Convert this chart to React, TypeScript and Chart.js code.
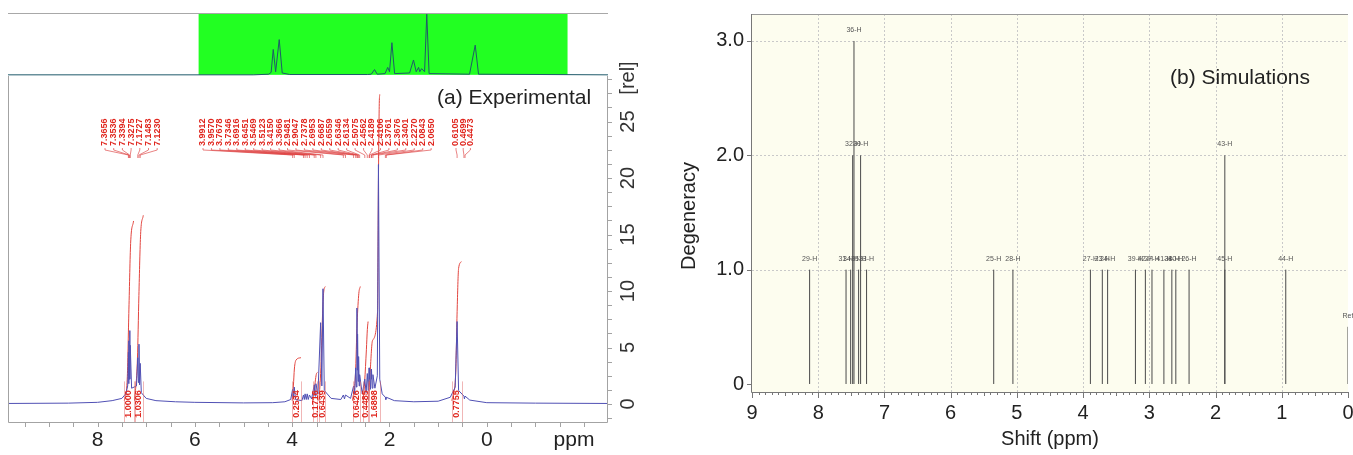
import React, { useEffect, useRef } from 'react';
import { Chart, registerables } from 'chart.js';

Chart.register(...registerables);

const FONT = '"Liberation Sans", Arial, Helvetica, sans-serif';

// ---------------- (a) Experimental ----------------
// spectrum: [ppm, intensity in rel units]
const expSpectrum: [number, number][] = [
  [9.84, 0.05], [8.6, 0.08], [8.0, 0.15], [7.7, 0.3], [7.5, 0.5], [7.42, 0.9], [7.38, 1.6],
  [7.3656, 4.6], [7.36, 1.8], [7.3536, 5.6], [7.346, 2.2], [7.3394, 6.5], [7.333, 2.2], [7.3275, 5.2],
  [7.3, 1.4], [7.2, 1.6], [7.1727, 4.1], [7.16, 1.9], [7.1483, 5.3], [7.136, 1.7], [7.123, 3.6],
  [7.1, 1.0], [7.0, 0.5], [6.8, 0.3], [6.4, 0.2], [6.0, 0.15], [5.0, 0.1], [4.4, 0.12], [4.15, 0.2],
  [4.03, 0.4], [3.9912, 1.3], [3.975, 0.5], [3.957, 1.5], [3.93, 0.4], [3.8, 0.3], [3.7678, 0.8],
  [3.75, 0.4], [3.7346, 0.9], [3.71, 0.4], [3.6916, 0.9], [3.67, 0.4], [3.6451, 0.8], [3.6, 0.45],
  [3.5469, 1.7], [3.53, 0.7], [3.5123, 1.8], [3.47, 0.9], [3.415, 7.2], [3.39, 1.6], [3.3666, 10.2],
  [3.34, 1.2], [3.2, 0.5], [3.0, 0.4], [2.9481, 0.8], [2.925, 0.45], [2.9047, 0.8], [2.8, 0.5],
  [2.7378, 1.6], [2.715, 0.9], [2.6953, 3.2], [2.68, 1.5], [2.6687, 8.5], [2.662, 3.0], [2.6559, 6.2],
  [2.645, 2.0], [2.6346, 4.2], [2.624, 1.6], [2.6134, 2.6], [2.56, 0.9], [2.5075, 2.2], [2.48, 1.0],
  [2.4562, 2.7], [2.435, 1.2], [2.4189, 3.2], [2.4146, 2.2], [2.4106, 3.2], [2.39, 1.3], [2.3761, 3.1],
  [2.372, 2.2], [2.3676, 3.1], [2.355, 1.4], [2.3401, 2.6], [2.3, 1.4], [2.25, 2.5], [2.227, 21.2],
  [2.2, 2.2], [2.15, 0.9], [2.0843, 0.6], [2.075, 0.4], [2.065, 0.6], [1.9, 0.3], [1.5, 0.2],
  [1.0, 0.25], [0.75, 0.6], [0.65, 1.5], [0.6105, 7.3], [0.58, 1.2], [0.4699, 0.7], [0.46, 0.45],
  [0.4473, 0.7], [0.35, 0.35], [0.0, 0.12], [-1.0, 0.08], [-2.47, 0.05],
];

// overview strip (whole spectrum, normalised)
const overviewSpectrum: [number, number][] = [
  [16.2, 0], [8.0, 0], [7.5, 0.01], [7.42, 0.04], [7.35, 0.41], [7.27, 0.05], [7.15, 0.57], [7.05, 0.03],
  [6.8, 0.005], [4.2, 0.005], [4.08, 0.01], [3.97, 0.085], [3.88, 0.01], [3.62, 0.02], [3.53, 0.12],
  [3.47, 0.05], [3.39, 0.52], [3.3, 0.02], [2.8, 0.03], [2.67, 0.24], [2.58, 0.05], [2.5, 0.12],
  [2.46, 0.05], [2.4, 0.1], [2.3, 0.05], [2.227, 0.98], [2.15, 0.02], [0.8, 0.01], [0.61, 0.48],
  [0.5, 0.01], [-3.82, 0],
];

const overviewRange = [16.2, -3.82];
const zoomWindow = [9.84, -2.47];

// picked peaks (ppm), three label groups
const peakGroupA = [7.3656, 7.3536, 7.3394, 7.3275, 7.1727, 7.1483, 7.123];
const peakGroupB = [
  3.9912, 3.957, 3.7678, 3.7346, 3.6916, 3.6451, 3.5469, 3.5123, 3.415, 3.3666, 2.9481, 2.9047,
  2.7378, 2.6953, 2.6687, 2.6559, 2.6346, 2.6134, 2.5075, 2.4562, 2.4189, 2.4106, 2.3761, 2.3676,
  2.3401, 2.227, 2.0843, 2.065,
];
const peakGroupC = [0.6105, 0.4699, 0.4473];

// integrals
const integralValues = ['1.0000', '1.0306', '0.2534', '0.1716', '0.6439', '0.6426', '0.4485', '1.6898', '0.7755'];
const integral1 = [[7.45, 0.3], [7.39, 2.2], [7.355, 8.4], [7.32, 14.2], [7.26, 16.2]];
const integral2 = [[7.24, 0.3], [7.18, 4.0], [7.15, 9.6], [7.115, 15.0], [7.06, 16.7]];
const integral3 = [[4.0, 0.3], [3.975, 1.6], [3.955, 3.1], [3.92, 3.9], [3.82, 4.1]];
const integral4 = [[3.58, 0.3], [3.55, 1.1], [3.52, 2.2], [3.5, 2.7], [3.48, 2.8]];
const integral5 = [[3.45, 0.3], [3.41, 3.2], [3.37, 8.6], [3.35, 10.0], [3.32, 10.4]];
const integral6 = [[2.76, 0.3], [2.7, 2.6], [2.665, 7.2], [2.63, 9.8], [2.6, 10.4]];
const integral7 = [[2.54, 0.3], [2.51, 2.0], [2.475, 4.8], [2.455, 6.6], [2.44, 7.3]];
const integral8 = [[2.43, 0.3], [2.4, 2.6], [2.35, 5.6], [2.245, 8.2], [2.227, 19.8], [2.21, 26.6], [2.2, 27.4]];
const integral9 = [[0.72, 0.3], [0.64, 2.6], [0.61, 8.2], [0.58, 12.0], [0.52, 12.6]];
const integralCurves = [integral1, integral2, integral3, integral4, integral5, integral6, integral7, integral8, integral9];

const expXTicks = [8, 6, 4, 2, 0];
const relTicks = [0, 5, 10, 15, 20, 25];

// ---------------- (b) Simulations ----------------
const simLabels = ['29-H', '31-H', '34-H', '32-H', '36-H', '35-H', '30-H', '33-H', '25-H', '28-H', '27-H', '23-H',
  '24-H', '39-H', '42-H', '37-H', '41-H', '38-H', '40-H', '26-H', '45-H', '43-H', '44-H', 'Ref'];
const simShift = [8.13, 7.58, 7.51, 7.48, 7.46, 7.39, 7.36, 7.27, 5.35, 5.06, 3.89, 3.71,
  3.63, 3.21, 3.06, 2.96, 2.78, 2.66, 2.6, 2.4, 1.86, 1.86, 0.94, 0.0];
const simDegeneracy = [1, 1, 1, 2, 3, 1, 2, 1, 1, 1, 1, 1,
  1, 1, 1, 1, 1, 1, 1, 1, 1, 2, 1, 0.5];
const simXTicks = [9, 8, 7, 6, 5, 4, 3, 2, 1, 0];
const simYTicks = [0, 1, 2, 3];
const simYTickLabels = ['0', '1.0', '2.0', '3.0'];

const rot = (ctx: any, text: string, x: number, y: number, align: string) => {
  ctx.save();
  ctx.translate(x, y);
  ctx.rotate(-Math.PI / 2);
  ctx.textAlign = align;
  ctx.textBaseline = 'middle';
  ctx.fillText(text, 0, 0);
  ctx.restore();
};

const expPlugin = {
  id: 'expDecor',
  afterDatasetsDraw(chart: any) {
    const { ctx, chartArea: ca } = chart;
    const x = chart.scales.x;
    const y = chart.scales.y;
    ctx.save();
    // integral region markers + values
    integralCurves.forEach((curve, i) => {
      const x0 = x.getPixelForValue(curve[0][0]);
      const x1 = x.getPixelForValue(curve[curve.length - 1][0]);
      ctx.strokeStyle = 'rgba(225,110,110,0.5)';
      ctx.lineWidth = 1;
      [x0, x1].forEach((px) => {
        ctx.beginPath();
        ctx.moveTo(Math.round(px) + 0.5, y.getPixelForValue(2));
        ctx.lineTo(Math.round(px) + 0.5, ca.bottom);
        ctx.stroke();
      });
      ctx.font = `bold 9px ${FONT}`;
      ctx.fillStyle = '#e0261e';
      rot(ctx, integralValues[i], (x0 + x1) / 2, y.getPixelForValue(0), 'center');
    });
    // peak labels with leaders
    const groups = [
      { ppm: peakGroupA, start: 105, step: 8.7 },
      { ppm: peakGroupB, start: 203, step: 8.45 },
      { ppm: peakGroupC, start: 456, step: 7.2 },
    ];
    ctx.font = `bold 9px ${FONT}`;
    groups.forEach((g) => {
      g.ppm.forEach((p, k) => {
        const lx = g.start + k * g.step;
        const px = x.getPixelForValue(p);
        ctx.fillStyle = '#e0261e';
        rot(ctx, p.toFixed(4), lx, 146, 'left');
        ctx.strokeStyle = 'rgba(220,60,60,0.8)';
        ctx.lineWidth = 0.8;
        ctx.beginPath();
        ctx.moveTo(lx, 148);
        ctx.lineTo(lx, 150);
        ctx.lineTo(px, 155);
        ctx.lineTo(px, 158);
        ctx.stroke();
      });
    });
    ctx.restore();
  },
  afterDraw(chart: any) {
    const { ctx, chartArea: ca } = chart;
    const x = chart.scales.x;
    const y = chart.scales.y;
    ctx.save();
    ctx.strokeStyle = '#a3a3a3';
    ctx.lineWidth = 1;
    ctx.beginPath();
    ctx.moveTo(ca.left + 0.5, ca.top);
    ctx.lineTo(ca.left + 0.5, ca.bottom + 0.5);
    ctx.lineTo(ca.right + 0.5, ca.bottom + 0.5);
    ctx.lineTo(ca.right + 0.5, ca.top);
    ctx.stroke();
    // bottom ticks every 0.5 ppm
    for (let i = -4; i <= 19; i++) {
      const v = i * 0.5;
      if (v < x.min || v > x.max) continue;
      const px = Math.round(x.getPixelForValue(v)) + 0.5;
      ctx.beginPath();
      ctx.moveTo(px, ca.bottom);
      ctx.lineTo(px, ca.bottom + 5);
      ctx.stroke();
    }
    // right ticks
    for (let j = -1; j <= 23; j++) {
      const v = j * 1.25;
      if (v < y.min || v > y.max) continue;
      const py = Math.round(y.getPixelForValue(v)) + 0.5;
      ctx.beginPath();
      ctx.moveTo(ca.right, py);
      ctx.lineTo(ca.right + 5, py);
      ctx.stroke();
    }
    ctx.fillStyle = '#333';
    ctx.font = `20px ${FONT}`;
    relTicks.forEach((v) => rot(ctx, String(v), 628, y.getPixelForValue(v), 'center'));
    rot(ctx, '[rel]', 628, 78, 'center');
    ctx.textAlign = 'center';
    ctx.textBaseline = 'middle';
    ctx.fillStyle = '#222';
    ctx.font = `21px ${FONT}`;
    ctx.fillText('ppm', 574, 440);
    ctx.textAlign = 'left';
    ctx.fillText('(a) Experimental', 437, 98);
    ctx.restore();
  },
};

const insetPlugin = {
  id: 'insetDecor',
  beforeDatasetsDraw(chart: any) {
    const { ctx, width } = chart;
    const x = chart.scales.x;
    const y = chart.scales.y;
    ctx.save();
    const a = x.getPixelForValue(zoomWindow[0]);
    const b = x.getPixelForValue(zoomWindow[1]);
    ctx.fillStyle = '#22ff22';
    ctx.fillRect(a, 0, b - a, y.getPixelForValue(0));
    ctx.strokeStyle = '#a8a8a8';
    ctx.lineWidth = 1;
    ctx.beginPath();
    ctx.moveTo(0, 0.5);
    ctx.lineTo(width, 0.5);
    ctx.stroke();
    ctx.restore();
  },
};

const simPlugin = {
  id: 'simDecor',
  beforeDraw(chart: any) {
    const { ctx, chartArea: ca } = chart;
    ctx.save();
    ctx.fillStyle = '#fdfdef';
    ctx.fillRect(ca.left, ca.top, ca.right - ca.left, ca.bottom - ca.top);
    ctx.restore();
  },
  beforeDatasetsDraw(chart: any) {
    const { ctx, chartArea: ca } = chart;
    const x = chart.scales.x;
    const y = chart.scales.y;
    ctx.save();
    ctx.strokeStyle = '#c9c9c9';
    ctx.lineWidth = 1;
    ctx.setLineDash([2, 2]);
    for (let v = 1; v <= 8; v++) {
      const px = Math.round(x.getPixelForValue(v)) + 0.5;
      ctx.beginPath();
      ctx.moveTo(px, ca.top);
      ctx.lineTo(px, ca.bottom);
      ctx.stroke();
    }
    [1, 2, 3].forEach((v) => {
      const py = Math.round(y.getPixelForValue(v)) + 0.5;
      ctx.beginPath();
      ctx.moveTo(ca.left, py);
      ctx.lineTo(ca.right, py);
      ctx.stroke();
    });
    ctx.restore();
  },
  afterDatasetsDraw(chart: any) {
    const { ctx, chartArea: ca } = chart;
    const x = chart.scales.x;
    const y = chart.scales.y;
    ctx.save();
    ctx.font = `7px ${FONT}`;
    ctx.fillStyle = '#555';
    ctx.textAlign = 'center';
    ctx.textBaseline = 'middle';
    simLabels.forEach((lab, i) => {
      ctx.fillText(lab, x.getPixelForValue(simShift[i]), y.getPixelForValue(simDegeneracy[i]) - 11);
    });
    // axes
    ctx.strokeStyle = '#9a9a9a';
    ctx.lineWidth = 1;
    ctx.beginPath();
    ctx.moveTo(ca.left, ca.top + 0.5);
    ctx.lineTo(ca.right, ca.top + 0.5);
    ctx.stroke();
    ctx.strokeStyle = '#777';
    ctx.beginPath();
    ctx.moveTo(ca.left - 0.5, ca.top);
    ctx.lineTo(ca.left - 0.5, ca.bottom + 0.5);
    ctx.lineTo(ca.right, ca.bottom + 0.5);
    ctx.stroke();
    for (let i = 0; i <= 90; i++) {
      const px = Math.round(x.getPixelForValue(i / 10)) + 0.5;
      const len = i % 10 === 0 ? 6 : i % 5 === 0 ? 4 : 3;
      ctx.beginPath();
      ctx.moveTo(px, ca.bottom);
      ctx.lineTo(px, ca.bottom + len);
      ctx.stroke();
    }
    simYTicks.forEach((v) => {
      const py = Math.round(y.getPixelForValue(v)) + 0.5;
      ctx.beginPath();
      ctx.moveTo(ca.left - 5, py);
      ctx.lineTo(ca.left, py);
      ctx.stroke();
    });
    ctx.fillStyle = '#222';
    ctx.font = `20px ${FONT}`;
    simXTicks.forEach((v) => {
      ctx.fillText(String(v), x.getPixelForValue(v), ca.bottom + 21);
    });
    ctx.textAlign = 'right';
    simYTicks.forEach((v, i) => {
      ctx.fillText(simYTickLabels[i], ca.left - 8, y.getPixelForValue(v));
    });
    ctx.textAlign = 'center';
    rot(ctx, 'Degeneracy', 13, 216, 'center');
    ctx.textAlign = 'left';
    ctx.font = `21px ${FONT}`;
    ctx.fillText('(b) Simulations', 494, 78);
    ctx.restore();
  },
};

export default function App() {
  const expRef = useRef<HTMLCanvasElement>(null);
  const insetRef = useRef<HTMLCanvasElement>(null);
  const simRef = useRef<HTMLCanvasElement>(null);

  useEffect(() => {
    const charts: Chart[] = [];
    const noPlug = { legend: { display: false }, tooltip: { enabled: false } };

    charts.push(
      new Chart(expRef.current as HTMLCanvasElement, {
        type: 'line',
        data: {
          datasets: [
            {
              data: expSpectrum.map(([px, py]) => ({ x: px, y: py })),
              borderColor: '#5050b4',
              borderWidth: 1,
              pointRadius: 0,
              tension: 0,
            },
            ...integralCurves.map((c) => ({
              data: c.map(([px, py]) => ({ x: px, y: py })),
              borderColor: '#e2453f',
              borderWidth: 1,
              pointRadius: 0,
              cubicInterpolationMode: 'monotone' as const,
            })),
          ],
        },
        options: {
          responsive: false,
          animation: false,
          devicePixelRatio: 1,
          layout: { padding: { left: 8, top: 76, right: 0, bottom: 0 } },
          plugins: noPlug,
          scales: {
            x: {
              type: 'linear',
              reverse: true,
              min: zoomWindow[1],
              max: zoomWindow[0],
              grid: { display: false, drawTicks: false },
              border: { display: false },
              afterBuildTicks: (s: any) => {
                s.ticks = expXTicks.map((v) => ({ value: v }));
              },
              ticks: { font: { family: FONT, size: 21 }, color: '#222', padding: 6, maxRotation: 0, autoSkip: false },
              afterFit: (s: any) => {
                s.height = 33;
              },
            },
            y: {
              type: 'linear',
              position: 'right',
              min: -1.59,
              max: 29.03,
              grid: { display: false, drawTicks: false },
              border: { display: false },
              ticks: { display: false },
              afterFit: (s: any) => {
                s.width = 69;
              },
            },
          },
        } as any,
        plugins: [expPlugin],
      })
    );

    charts.push(
      new Chart(insetRef.current as HTMLCanvasElement, {
        type: 'line',
        data: {
          datasets: [
            {
              data: overviewSpectrum.map(([px, py]) => ({ x: px, y: py })),
              borderColor: '#1f5a6a',
              borderWidth: 1,
              pointRadius: 0,
              tension: 0,
            },
          ],
        },
        options: {
          responsive: false,
          animation: false,
          devicePixelRatio: 1,
          layout: { padding: 0 },
          plugins: noPlug,
          scales: {
            x: { type: 'linear', reverse: true, min: overviewRange[1], max: overviewRange[0], display: false },
            y: { type: 'linear', min: -0.035, max: 1.0, display: false },
          },
        } as any,
        plugins: [insetPlugin],
      })
    );

    const sticks: any[] = [];
    simShift.forEach((s, i) => {
      sticks.push({ x: s, y: 0 }, { x: s, y: simDegeneracy[i] }, { x: s, y: null });
    });

    charts.push(
      new Chart(simRef.current as HTMLCanvasElement, {
        type: 'line',
        data: {
          datasets: [
            {
              data: sticks,
              borderColor: '#4a4a4a',
              borderWidth: 1,
              pointRadius: 0,
              spanGaps: false,
            },
          ],
        },
        options: {
          responsive: false,
          animation: false,
          devicePixelRatio: 1,
          layout: { padding: { top: 14, right: 5, left: 0, bottom: 0 } },
          plugins: noPlug,
          scales: {
            x: {
              type: 'linear',
              reverse: true,
              min: 0,
              max: 9,
              grid: { display: false, drawTicks: false },
              border: { display: false },
              ticks: { display: false },
              title: { display: true, text: 'Shift (ppm)', font: { family: FONT, size: 20 }, color: '#222', padding: { top: 0, bottom: 4 } },
              afterFit: (s: any) => {
                s.height = 63;
              },
            },
            y: {
              type: 'linear',
              min: -0.07,
              max: 3.236,
              grid: { display: false, drawTicks: false },
              border: { display: false },
              ticks: { display: false },
              afterFit: (s: any) => {
                s.width = 76;
              },
            },
          },
        } as any,
        plugins: [simPlugin],
      })
    );

    return () => charts.forEach((c) => c.destroy());
  }, []);

  return (
    <div style={{ position: 'absolute', left: 0, top: 0, width: 1353, height: 455, background: '#fff', overflow: 'hidden' }}>
      <canvas ref={expRef} width={676} height={455} style={{ position: 'absolute', left: 0, top: 0 }} />
      <canvas ref={insetRef} width={600} height={64} style={{ position: 'absolute', left: 8, top: 13 }} />
      <canvas ref={simRef} width={677} height={455} style={{ position: 'absolute', left: 676, top: 0 }} />
    </div>
  );
}
